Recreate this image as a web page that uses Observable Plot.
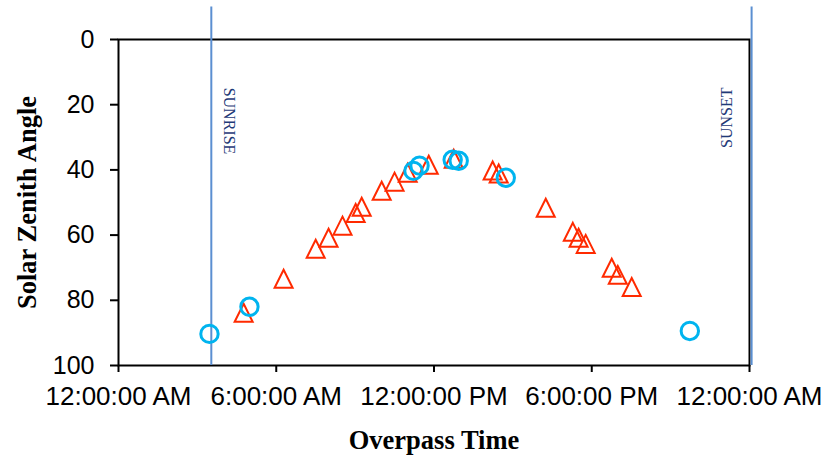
<!DOCTYPE html>
<html>
<head>
<meta charset="utf-8">
<script src="https://cdn.jsdelivr.net/npm/d3@7"></script>
<script src="https://cdn.jsdelivr.net/npm/@observablehq/plot@0.6"></script>
<style>
  html, body { margin: 0; padding: 0; background: #fff; }
</style>
</head>
<body>
<div id="chart"></div>
<script>
// Overpass time in hours since midnight, solar zenith angle in degrees
const circleHours  = [3.46, 4.98, 11.22, 11.45, 12.71, 12.94, 14.73, 21.73];
const circleZenith = [90.3, 82.0, 40.3, 38.7, 36.9, 37.2, 42.4, 89.4];

const triangleHours  = [4.76, 6.28, 7.50, 7.99, 8.52, 9.02, 9.25, 10.01, 10.50, 11.00, 11.80, 12.75, 14.23, 14.46, 16.25, 17.28, 17.50, 17.77, 18.76, 18.99, 19.52];
const triangleZenith = [83.8, 73.4, 64.2, 60.8, 57.1, 53.2, 51.3, 46.4, 43.6, 40.9, 38.4, 36.6, 40.2, 41.1, 51.6, 59.0, 60.8, 62.7, 70.0, 72.2, 75.9];

const sunriseHour = 3.53;
const sunsetHour = 24.08;

const xTicks = [0, 6, 12, 18, 24];
const xTickLabels = ["12:00:00 AM", "6:00:00 AM", "12:00:00 PM", "6:00:00 PM", "12:00:00 AM"];
const yTicks = [0, 20, 40, 60, 80, 100];

const circles = circleHours.map((h, i) => ({h, z: circleZenith[i]}));
const triangles = triangleHours.map((h, i) => ({h, z: triangleZenith[i]}));

// Excel-like isosceles triangle (height = width), centered on its bounding box
const excelTriangle = {
  draw(ctx, size) {
    const r = Math.sqrt(size / Math.PI);
    ctx.moveTo(0, -r);
    ctx.lineTo(r, r);
    ctx.lineTo(-r, r);
    ctx.closePath();
  }
};

const sans = "Liberation Sans, Arial, sans-serif";
const serif = "Liberation Serif, Times New Roman, serif";

const chart = Plot.plot({
  width: 837,
  height: 459,
  marginLeft: 118,
  marginRight: 88,
  marginTop: 39,
  marginBottom: 94,
  style: {fontFamily: sans, fontSize: "25px", background: "#fff", color: "#000"},
  x: {domain: [0, 24]},
  y: {domain: [0, 100], reverse: true},
  marks: [
    Plot.frame({stroke: "#000", strokeWidth: 2}),
    Plot.axisX({ticks: xTicks, tickFormat: (d, i) => xTickLabels[i], tickSize: 7, tickPadding: 14, fontSize: 26, label: null, stroke: "#000", strokeWidth: 2}),
    Plot.axisY({ticks: yTicks, tickSize: 8, tickPadding: 16, fontSize: 25, label: null, stroke: "#000", strokeWidth: 2}),
    Plot.ruleX([sunriseHour, sunsetHour], {x: d => d, y1: -10, y2: 100, stroke: "#5b8fd1", strokeWidth: 2}),
    Plot.text(["SUNRISE"], {x: sunriseHour, y: 25, dx: 18, rotate: 90, text: d => d, fontFamily: serif, fontSize: 16, fill: "#1f3a78", textAnchor: "middle", lineAnchor: "middle"}),
    Plot.text(["SUNSET"], {x: sunsetHour, y: 24, dx: -25, rotate: -90, text: d => d, fontFamily: serif, fontSize: 16, fill: "#1f3a78", textAnchor: "middle", lineAnchor: "middle"}),
    Plot.dot(triangles, {x: "h", y: "z", symbol: excelTriangle, r: 9, stroke: "#ff2a00", strokeWidth: 2, fill: "none"}),
    Plot.dot(circles, {x: "h", y: "z", symbol: "circle", r: 8.7, stroke: "#00b4ef", strokeWidth: 3, fill: "none"}),
    Plot.text(["Overpass Time"], {frameAnchor: "bottom", dy: 75, text: d => d, fontFamily: serif, fontWeight: "bold", fontSize: 26.5, fill: "#000", lineAnchor: "middle", textAnchor: "middle"}),
    Plot.text(["Solar Zenith Angle"], {frameAnchor: "left", dx: -91, rotate: -90, text: d => d, fontFamily: serif, fontWeight: "bold", fontSize: 26.5, fill: "#000", lineAnchor: "middle", textAnchor: "middle"})
  ]
});

document.getElementById("chart").appendChild(chart);
</script>
</body>
</html>
